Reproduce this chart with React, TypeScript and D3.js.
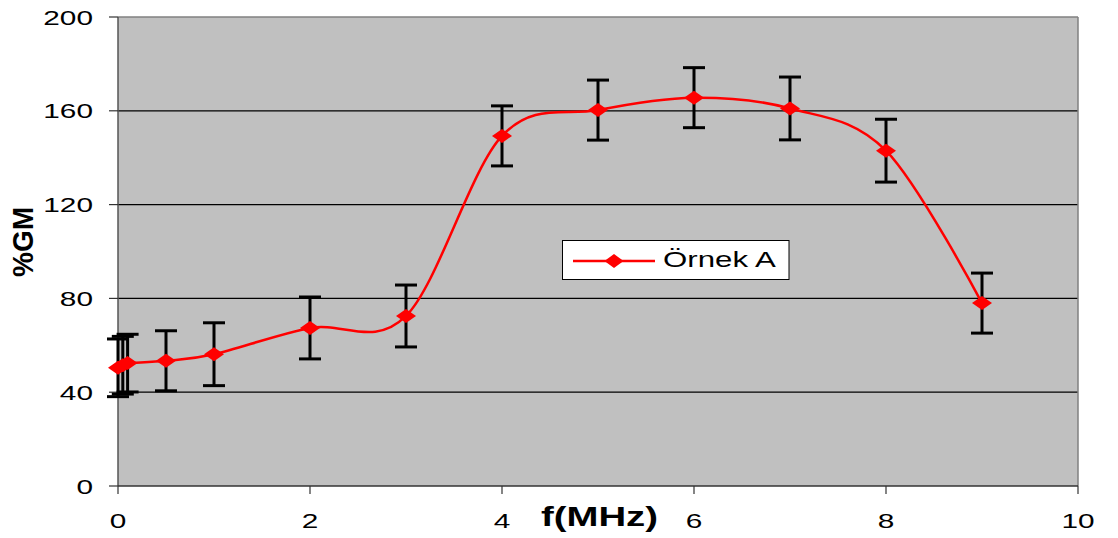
import React from "react";
import * as d3 from "d3";

const freqs = [0, 0.05, 0.1, 0.5, 1, 2, 3, 4, 5, 6, 7, 8, 9];
const values = [50.4, 51.5, 52.4, 53.4, 56.2, 67.4, 72.5, 149.3, 160.3, 165.6, 161, 143, 78];
const errors = [12.3, 12.3, 12.3, 12.8, 13.4, 13.2, 13.2, 12.8, 12.8, 12.8, 13.4, 13.4, 12.8];
const xTicks = [0, 2, 4, 6, 8, 10];
const yTicks = [0, 40, 80, 120, 160, 200];
const seriesName = "Örnek A";
const xTitle = "f(MHz)";
const yTitle = "%GM";

const W = 1118;
const H = 538;
const FONT = "'Liberation Sans', Arial, sans-serif";
const SX = 1.42;

function SText(props: any) {
  const { x, y, anchor = "start", size = 21, weight = "normal", children, extra = "" } = props;
  return (
    <text
      transform={`translate(${x},${y}) scale(${SX},1) ${extra}`}
      textAnchor={anchor}
      fontFamily={FONT}
      fontSize={size}
      fontWeight={weight}
      fill="#000"
    >
      {children}
    </text>
  );
}

export default function App() {
  const x = d3.scaleLinear().domain([0, 10]).range([118, 1078]);
  const y = d3.scaleLinear().domain([0, 200]).range([486, 17]);
  const pts = freqs.map((f, i) => [x(f), y(values[i])] as [number, number]);
  const line = d3.line().curve(d3.curveCardinal.tension(0))(pts) || "";
  const diamond = (cx: number, cy: number, w: number, h: number) =>
    `M${cx - w / 2},${cy}L${cx},${cy - h / 2}L${cx + w / 2},${cy}L${cx},${cy + h / 2}Z`;

  return (
    <svg width={W} height={H} style={{ position: "absolute", left: 0, top: 0, background: "#fff" }}>
      <rect x={x(0)} y={y(200)} width={x(10) - x(0)} height={y(0) - y(200)} fill="#C0C0C0" />
      {yTicks.filter((t) => t > 0 && t < 200).map((t) => (
        <line key={t} x1={x(0)} x2={x(10)} y1={y(t)} y2={y(t)} stroke="#000" strokeWidth={1.2} />
      ))}
      <line x1={x(0)} x2={x(10)} y1={y(200)} y2={y(200)} stroke="#808080" strokeWidth={1.5} />
      <line x1={x(10)} x2={x(10)} y1={y(200)} y2={y(0)} stroke="#808080" strokeWidth={1.5} />
      <line x1={x(0)} x2={x(0)} y1={y(200)} y2={y(0)} stroke="#555" strokeWidth={1.5} />
      <line x1={x(0)} x2={x(10)} y1={y(0)} y2={y(0)} stroke="#333" strokeWidth={1.5} />
      {yTicks.map((t) => (
        <g key={"y" + t}>
          <line x1={x(0) - 9} x2={x(0)} y1={y(t)} y2={y(t)} stroke="#333" strokeWidth={1.2} />
          <SText x={93} y={y(t) + 7.5} anchor="end">{t}</SText>
        </g>
      ))}
      {xTicks.map((t) => (
        <g key={"x" + t}>
          <line x1={x(t)} x2={x(t)} y1={y(0)} y2={y(0) + 8} stroke="#333" strokeWidth={1.2} />
          <SText x={x(t)} y={528} anchor="middle">{t}</SText>
        </g>
      ))}
      <SText x={541} y={526} size={27} weight="bold">{xTitle}</SText>
      <text
        transform={`translate(33,242) scale(${SX},1) rotate(-90)`}
        textAnchor="middle"
        fontFamily={FONT}
        fontSize={21}
        fontWeight="bold"
        textLength={70}
        lengthAdjust="spacingAndGlyphs"
      >
        {yTitle}
      </text>
      <path d={line} fill="none" stroke="#FF0000" strokeWidth={2.5} />
      {freqs.map((f, i) => {
        const cx = x(f);
        const t = y(values[i] + errors[i]);
        const b = y(values[i] - errors[i]);
        return (
          <g key={"e" + i} stroke="#000" strokeWidth={3}>
            <line x1={cx} x2={cx} y1={t} y2={b} />
            <line x1={cx - 11} x2={cx + 11} y1={t} y2={t} />
            <line x1={cx - 11} x2={cx + 11} y1={b} y2={b} />
          </g>
        );
      })}
      {pts.map(([px, py], i) => (
        <path key={"m" + i} d={diamond(px, py, 20, 14)} fill="#FF0000" />
      ))}
      <rect x={562.5} y={240.5} width={226.5} height={39} fill="#fff" stroke="#000" strokeWidth={1} />
      <line x1={573} x2={655} y1={261} y2={261} stroke="#FF0000" strokeWidth={2.5} />
      <path d={diamond(614, 261, 19, 14)} fill="#FF0000" />
      <SText x={663} y={267} size={22}>{seriesName}</SText>
    </svg>
  );
}
